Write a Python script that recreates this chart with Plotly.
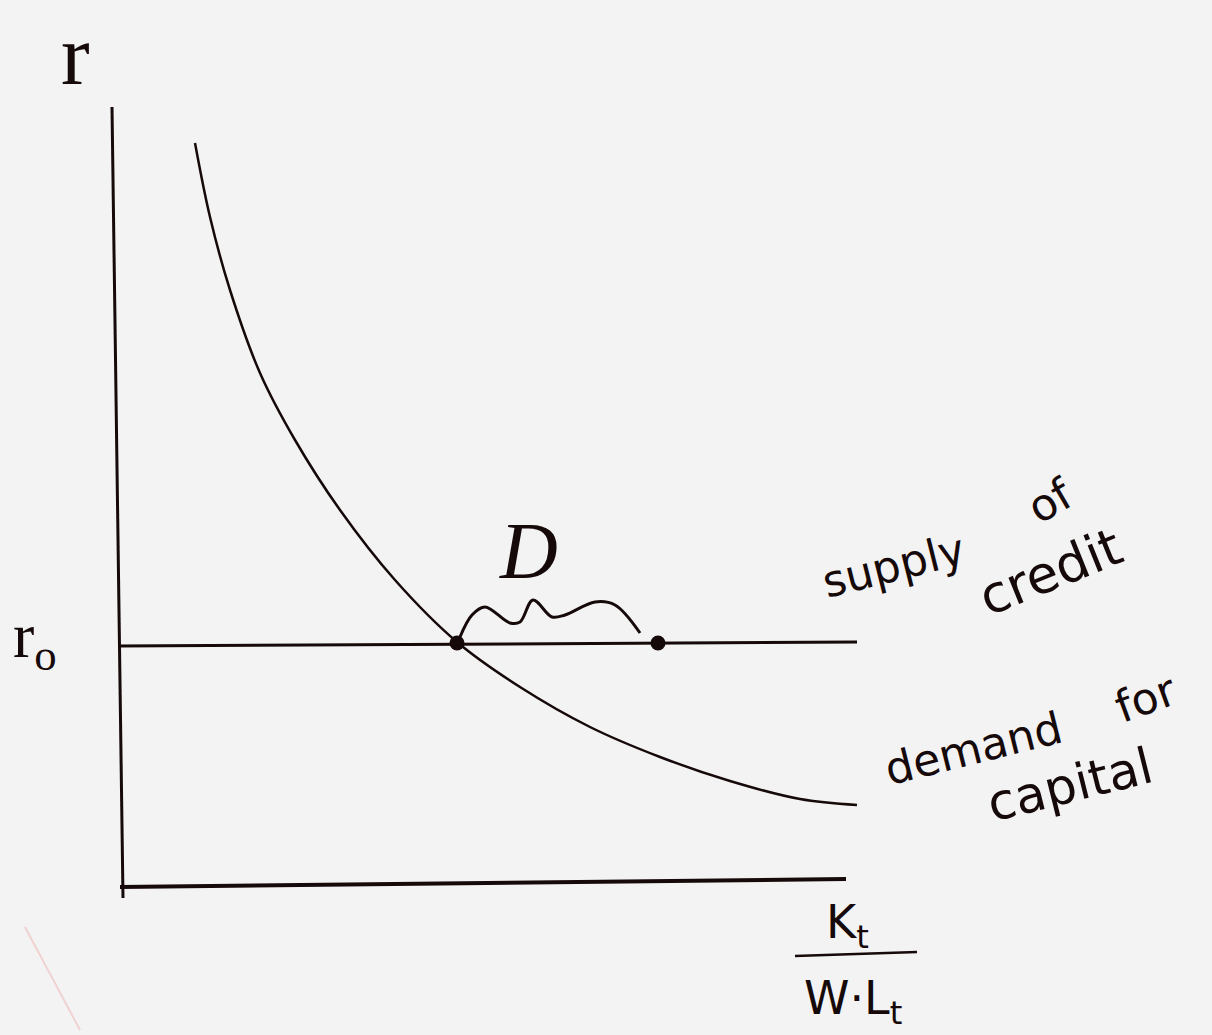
import plotly.graph_objects as go

# --- values (x: K_t / (W·L_t), y: interest rate r) ---
# demand for capital curve
demand_x = [0.75, 0.90, 1.10, 1.40, 1.75, 2.20, 2.75, 3.37, 4.00, 4.70,
            5.40, 6.10, 6.80, 7.37]
demand_y = [7.42, 6.68, 5.95, 5.12, 4.45, 3.75, 3.05, 2.43, 1.98, 1.58,
            1.28, 1.04, 0.86, 0.80]

# flat supply of credit at r0
supply_x = [-0.02, 7.37]
supply_y = [2.39, 2.43]

# equilibrium point and the point the gap D runs to
dots_x = [3.37, 5.38]
dots_y = [2.42, 2.42]

# wavy brace marking the gap D
brace_x = [3.40, 3.52, 3.65, 3.90, 4.00, 4.13, 4.32, 4.45, 4.75, 4.95, 5.20]
brace_y = [2.48, 2.70, 2.78, 2.62, 2.63, 2.85, 2.68, 2.70, 2.83, 2.80, 2.52]

# hand-drawn axes
vaxis_x = [-0.08, 0.03]
vaxis_y = [7.78, -0.13]
haxis_x = [0.00, 7.26]
haxis_y = [-0.02, 0.06]

INK = "#160909"
FONT = "DejaVu Sans"
SERIF = "Liberation Serif"

fig = go.Figure()

fig.add_trace(go.Scatter(x=vaxis_x, y=vaxis_y, mode="lines",
                         line=dict(color=INK, width=3), hoverinfo="skip"))
fig.add_trace(go.Scatter(x=haxis_x, y=haxis_y, mode="lines",
                         line=dict(color=INK, width=4), hoverinfo="skip"))
fig.add_trace(go.Scatter(x=supply_x, y=supply_y, mode="lines",
                         line=dict(color=INK, width=3), hoverinfo="skip"))
fig.add_trace(go.Scatter(x=demand_x, y=demand_y, mode="lines",
                         line=dict(color=INK, width=2.5, shape="spline", smoothing=1.0),
                         hoverinfo="skip"))
fig.add_trace(go.Scatter(x=brace_x, y=brace_y, mode="lines",
                         line=dict(color=INK, width=3, shape="spline", smoothing=1.0),
                         hoverinfo="skip"))
fig.add_trace(go.Scatter(x=dots_x, y=dots_y, mode="markers",
                         marker=dict(color=INK, size=15), hoverinfo="skip"))

# fraction bar under K_t
fig.add_shape(type="line", x0=6.75, y0=-0.71, x1=7.97, y1=-0.67,
              line=dict(color=INK, width=2.5))
# faint stray pencil mark at lower left
fig.add_shape(type="line", x0=-0.95, y0=-0.42, x1=-0.40, y1=-1.45,
              line=dict(color="rgba(235,150,150,0.35)", width=2))


def label(text, x, y, size, angle=0, family=FONT, italic=False):
    fig.add_annotation(x=x, y=y, xref="x", yref="y", text=text, showarrow=False,
                       textangle=angle,
                       font=dict(family=family, size=size, color=INK,
                                 style="italic" if italic else "normal"))


label("r", -0.45, 8.30, 86, family=SERIF)
label("r<sub>o</sub>", -0.85, 2.45, 64, family=SERIF)
label("D", 4.08, 3.34, 80, family=SERIF, italic=True)

label("supply", 7.73, 3.20, 44, angle=-14)
label("of", 9.30, 3.85, 44, angle=-30)
label("credit", 9.30, 3.13, 52, angle=-22)

label("demand", 8.53, 1.37, 44, angle=-14)
label("for", 10.25, 1.87, 44, angle=-20)
label("capital", 9.50, 1.00, 50, angle=-14)

label("K<sub>t</sub>", 7.27, -0.40, 46)
label("W·L<sub>t</sub>", 7.33, -1.16, 46)

fig.update_layout(
    width=1212, height=1035,
    margin=dict(l=0, r=0, t=0, b=0),
    paper_bgcolor="#f3f3f3", plot_bgcolor="#f3f3f3",
    showlegend=False,
    xaxis=dict(range=[-1.2, 10.92], visible=False, fixedrange=True),
    yaxis=dict(range=[-1.5, 8.85], visible=False, fixedrange=True),
)

fig.write_html("out.html")
